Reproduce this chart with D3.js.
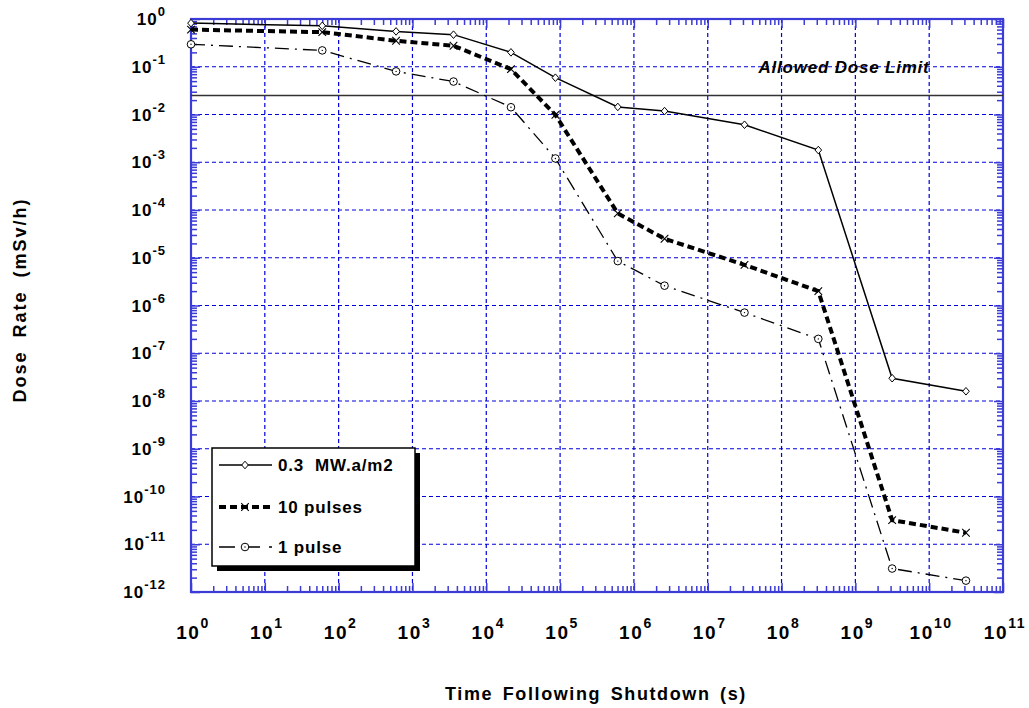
<!DOCTYPE html>
<html>
<head>
<meta charset="utf-8">
<script src="https://cdn.jsdelivr.net/npm/d3@7"></script>
<style>
  body { margin: 0; background: #fff; }
  text { font-family: "Liberation Sans", Arial, Helvetica, sans-serif; font-weight: bold; fill: #000; }
</style>
</head>
<body>
<div id="chart"></div>
<script>
(function() {
  var width = 1029,
  height = 708;

  // time after shutdown (s): 1 s, 1 min, 10 min, 1 h, 6 h, 1 d, 1 wk, 1 mo, 1 y, 10 y, 100 y, 1000 y
  var times = [1, 60, 600, 3600, 21600, 86400, 604800, 2.6e6, 3.15e7, 3.15e8, 3.15e9, 3.15e10];
  var dose03 = [0.82, 0.72, 0.55, 0.47, 0.20, 0.059, 0.0144, 0.0118, 0.0061, 0.0018, 3.0e-8, 1.6e-8];
  var dose10p = [0.60, 0.53, 0.35, 0.275, 0.089, 0.0098, 8.5e-5, 2.5e-5, 7.1e-6, 2.0e-6, 3.2e-11, 1.74e-11];
  var dose1p = [0.295, 0.22, 0.080, 0.049, 0.0142, 0.0012, 8.5e-6, 2.6e-6, 7.1e-7, 2.0e-7, 3.1e-12, 1.73e-12];
  var doseLimit = 0.025;

  var seriesNames = ["0.3  MW.a/m2", "10 pulses", "1 pulse"];
  var xExponents = [0, 1, 2, 3, 4, 5, 6, 7, 8, 9, 10, 11];
  var yExponents = [0, -1, -2, -3, -4, -5, -6, -7, -8, -9, -10, -11, -12];

  var left = 191, right = 1003, top = 19, bottom = 592;

  var x = d3.scaleLog().domain([1, 1e11]).range([left, right]);
  var y = d3.scaleLog().domain([1, 1e-12]).range([top, bottom]);

  var svg = d3.select('#chart')
    .append("svg")
    .attr("width", width)
    .attr("height", height);

  var gridColor = "#0000dd",
  frameColor = "#3b3bd6";

  // grid
  svg.append("g").selectAll("line.vg")
    .data(xExponents.slice(1, -1))
    .enter().append("line")
    .attr("x1", function(d) { return x(Math.pow(10, d)); })
    .attr("x2", function(d) { return x(Math.pow(10, d)); })
    .attr("y1", top).attr("y2", bottom)
    .attr("stroke", gridColor)
    .attr("stroke-width", 1.2)
    .attr("stroke-dasharray", "4,3");

  svg.append("g").selectAll("line.hg")
    .data(yExponents.slice(1, -1))
    .enter().append("line")
    .attr("y1", function(d) { return y(Math.pow(10, d)); })
    .attr("y2", function(d) { return y(Math.pow(10, d)); })
    .attr("x1", left).attr("x2", right)
    .attr("stroke", gridColor)
    .attr("stroke-width", 1.2)
    .attr("stroke-dasharray", "4,3");

  // minor ticks, inside all four sides
  var xMinor = [], yMinor = [];
  xExponents.slice(0, -1).forEach(function(e) {
    for (var m = 2; m < 10; m++) xMinor.push(m * Math.pow(10, e));
  });
  yExponents.slice(1).forEach(function(e) {
    for (var m = 2; m < 10; m++) yMinor.push(m * Math.pow(10, e));
  });
  var xMajor = xExponents.map(function(e) { return Math.pow(10, e); });
  var yMajor = yExponents.map(function(e) { return Math.pow(10, e); });

  function styleAxis(g) {
    g.select(".domain").remove();
    g.selectAll("line").attr("stroke", frameColor).attr("stroke-width", 1.5);
  }

  svg.append("g").attr("transform", "translate(0," + bottom + ")")
    .call(d3.axisBottom(x).tickValues(xMinor).tickSize(-6).tickFormat("")).call(styleAxis);
  svg.append("g").attr("transform", "translate(0," + top + ")")
    .call(d3.axisTop(x).tickValues(xMinor).tickSize(-6).tickFormat("")).call(styleAxis);
  svg.append("g").attr("transform", "translate(" + left + ",0)")
    .call(d3.axisLeft(y).tickValues(yMinor).tickSize(-6).tickFormat("")).call(styleAxis);
  svg.append("g").attr("transform", "translate(" + right + ",0)")
    .call(d3.axisRight(y).tickValues(yMinor).tickSize(-6).tickFormat("")).call(styleAxis);
  svg.append("g").attr("transform", "translate(" + left + ",0)")
    .call(d3.axisLeft(y).tickValues(yMajor).tickSize(-9).tickFormat("")).call(styleAxis);
  svg.append("g").attr("transform", "translate(" + right + ",0)")
    .call(d3.axisRight(y).tickValues(yMajor).tickSize(-9).tickFormat("")).call(styleAxis);
  svg.append("g").attr("transform", "translate(0," + bottom + ")")
    .call(d3.axisBottom(x).tickValues(xMajor).tickSize(-9).tickFormat("")).call(styleAxis);
  svg.append("g").attr("transform", "translate(0," + top + ")")
    .call(d3.axisTop(x).tickValues(xMajor).tickSize(-9).tickFormat("")).call(styleAxis);

  // frame
  svg.append("rect")
    .attr("x", left).attr("y", top)
    .attr("width", right - left).attr("height", bottom - top)
    .attr("fill", "none")
    .attr("stroke", frameColor)
    .attr("stroke-width", 2.2);

  // tick labels
  var yl = svg.append("g").selectAll("text")
    .data(yExponents)
    .enter().append("text")
    .attr("x", 166)
    .attr("y", function(d) { return y(Math.pow(10, d)) + 6; })
    .attr("text-anchor", "end")
    .style("font-size", "17px")
    .style("letter-spacing", "1px");
  yl.append("tspan").text("10");
  yl.append("tspan").attr("dy", -9).style("font-size", "13px")
    .text(function(d) { return d === 0 ? "0" : "-" + Math.abs(d); });

  var xl = svg.append("g").selectAll("text")
    .data(xExponents)
    .enter().append("text")
    .attr("x", function(d) { return x(Math.pow(10, d)) + 2; })
    .attr("y", 639)
    .attr("text-anchor", "middle")
    .style("font-size", "19px")
    .style("letter-spacing", "1.6px");
  xl.append("tspan").text("10");
  xl.append("tspan").attr("dy", -11).style("font-size", "14px")
    .text(function(d) { return d; });

  // axis titles
  svg.append("text")
    .attr("x", 596).attr("y", 700)
    .attr("text-anchor", "middle")
    .style("font-size", "18px")
    .style("letter-spacing", "1.6px")
    .style("word-spacing", "3px")
    .text("Time Following Shutdown (s)");

  svg.append("text")
    .attr("transform", "translate(26,300) rotate(-90)")
    .attr("text-anchor", "middle")
    .style("font-size", "18px")
    .style("letter-spacing", "2px")
    .style("word-spacing", "6px")
    .text("Dose Rate (mSv/h)");

  // dose limit
  svg.append("line")
    .attr("x1", left).attr("x2", right)
    .attr("y1", y(doseLimit)).attr("y2", y(doseLimit))
    .attr("stroke", "#333")
    .attr("stroke-width", 1.3);

  svg.append("text")
    .attr("x", 844).attr("y", 73)
    .attr("text-anchor", "middle")
    .style("font-size", "17px")
    .style("font-style", "italic")
    .style("letter-spacing", "0.8px")
    .text("Allowed Dose Limit");

  // series
  var styles = [
    { values: dose03, width: 1.5, dash: null, marker: "diamond" },
    { values: dose10p, width: 4, dash: "7,4", marker: "cross" },
    { values: dose1p, width: 1.3, dash: "14,6,2,6", marker: "circle" }
  ];

  var line = d3.line()
    .x(function(d) { return x(d[0]); })
    .y(function(d) { return y(d[1]); });

  function drawMarker(g, type, cx, cy) {
    if (type === "diamond") {
      g.append("path")
        .attr("d", "M" + cx + "," + (cy - 3.8) + "L" + (cx + 3.3) + "," + cy + "L" + cx + "," + (cy + 3.8) + "L" + (cx - 3.3) + "," + cy + "Z")
        .attr("fill", "#fff").attr("stroke", "#000").attr("stroke-width", 1);
    } else if (type === "cross") {
      g.append("path")
        .attr("d", "M" + (cx - 3.8) + "," + (cy - 3.8) + "L" + (cx + 3.8) + "," + (cy + 3.8) + "M" + (cx + 3.8) + "," + (cy - 3.8) + "L" + (cx - 3.8) + "," + (cy + 3.8))
        .attr("fill", "none").attr("stroke", "#000").attr("stroke-width", 1.1);
    } else {
      g.append("circle").attr("cx", cx).attr("cy", cy).attr("r", 3.8)
        .attr("fill", "#fff").attr("stroke", "#000").attr("stroke-width", 1);
      g.append("circle").attr("cx", cx).attr("cy", cy).attr("r", 0.7).attr("fill", "#000");
    }
  }

  styles.forEach(function(s) {
    var pts = times.map(function(t, i) { return [t, s.values[i]]; });
    svg.append("path")
      .datum(pts)
      .attr("d", line)
      .attr("fill", "none")
      .attr("stroke", "#000")
      .attr("stroke-width", s.width)
      .attr("stroke-dasharray", s.dash);
    var mg = svg.append("g");
    pts.forEach(function(p) { drawMarker(mg, s.marker, x(p[0]), y(p[1])); });
  });

  // legend
  var lg = svg.append("g");
  lg.append("rect").attr("x", 217).attr("y", 453).attr("width", 203).attr("height", 118).attr("fill", "#000");
  lg.append("rect").attr("x", 212).attr("y", 448).attr("width", 203).attr("height", 118)
    .attr("fill", "#fff").attr("stroke", "#000").attr("stroke-width", 1.5);

  var rowY = [465, 507, 547];
  styles.forEach(function(s, i) {
    lg.append("line")
      .attr("x1", 219).attr("x2", 272)
      .attr("y1", rowY[i]).attr("y2", rowY[i])
      .attr("stroke", "#000")
      .attr("stroke-width", s.width)
      .attr("stroke-dasharray", i === 2 ? "16,9,0,0" : s.dash);
    drawMarker(lg, s.marker, 245, rowY[i]);
    lg.append("text")
      .attr("x", 278).attr("y", rowY[i] + 6)
      .style("font-size", "17px")
      .style("letter-spacing", "0.8px")
      .style("white-space", "pre")
      .text(seriesNames[i]);
  });
})();
</script>
</body>
</html>
